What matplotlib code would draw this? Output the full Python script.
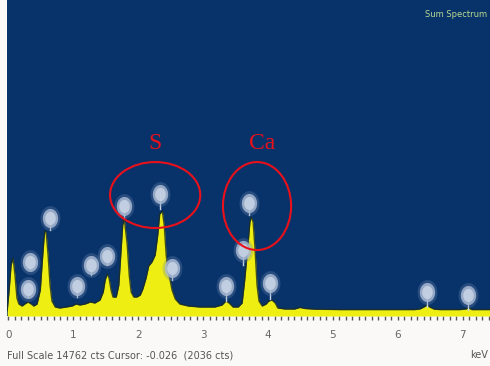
import numpy as np
import matplotlib
matplotlib.use("Agg")
import matplotlib.pyplot as plt
from matplotlib.patches import Ellipse
from matplotlib.ticker import MultipleLocator

# ---- spectrum (keV, counts) ----
energy = [-0.02, 0.01, 0.04, 0.07, 0.10, 0.13, 0.16, 0.21, 0.25, 0.30, 0.35, 0.39, 0.44,
          0.49, 0.52, 0.55, 0.56, 0.58, 0.61, 0.64, 0.67, 0.72, 0.79, 0.89, 0.98, 1.04,
          1.10, 1.18, 1.26, 1.33, 1.41, 1.46, 1.49, 1.52, 1.55, 1.58, 1.61, 1.66, 1.70,
          1.73, 1.76, 1.78, 1.79, 1.83, 1.86, 1.89, 1.93, 1.98, 2.03, 2.07, 2.12, 2.16,
          2.21, 2.26, 2.30, 2.33, 2.37, 2.40, 2.43, 2.46, 2.49, 2.52, 2.57, 2.64, 2.77,
          2.95, 3.18, 3.29, 3.35, 3.40, 3.46, 3.54, 3.60, 3.64, 3.69, 3.72, 3.74, 3.77,
          3.80, 3.83, 3.86, 3.91, 3.97, 4.01, 4.06, 4.11, 4.15, 4.26, 4.41, 4.49, 4.57,
          4.72, 5.11, 5.72, 6.26, 6.34, 6.40, 6.45, 6.49, 6.56, 6.65, 6.96, 7.05, 7.09,
          7.14, 7.42]
counts = [250, 1214, 2382, 2709, 1915, 841, 560, 467, 560, 654, 560, 467, 560,
          1214, 2522, 3736, 3970, 3923, 2849, 1447, 700, 420, 374, 420, 467, 560,
          514, 560, 654, 607, 747, 1121, 1681, 1961, 1775, 1214, 887, 887, 1447,
          2849, 4250, 4483, 4390, 3316, 1915, 1121, 887, 887, 980, 1260, 1775, 2335,
          2522, 2849, 3783, 4763, 4903, 4250, 2849, 2055, 1681, 1214, 794, 560, 467,
          420, 420, 514, 700, 607, 420, 420, 607, 1681, 3316, 4390, 4623, 4390,
          3082, 1447, 700, 467, 560, 700, 747, 607, 374, 327, 327, 400, 350,
          320, 300, 300, 300, 330, 420, 514, 420, 320, 300, 300, 330, 380,
          300, 300]

# element label markers (keV, counts)
label_energy = [0.33, 0.30, 0.64, 1.06, 1.27, 1.52, 1.78, 2.33, 2.52, 3.35, 3.61, 3.71, 4.03, 6.45, 7.08]
label_counts = [2522, 1261, 4577, 1401, 2382, 2802, 5137, 5697, 2242, 1401, 3082, 5277, 1541, 1121, 981]
stem_counts = [2200, 900, 4000, 900, 1900, 2400, 4600, 5000, 1700, 700, 2400, 4700, 800, 400, 300]

x_ticks = [0, 1, 2, 3, 4, 5, 6, 7]
x_ticklabels = ["0", "1", "2", "3", "4", "5", "6", "7"]
full_scale = 14762

annot_text = ["S", "Ca"]
annot_pos = [(2.26, 8079), (3.91, 8079)]
ell_center = [(2.26, 5651), (3.83, 5137)]
ell_size = [(1.39, 3082), (1.05, 4110)]

navy = "#08336a"
yellow = "#eeee12"

fig = plt.figure(figsize=(4.9, 3.66), dpi=100)
fig.patch.set_facecolor("#fbf8f8")
ax = fig.add_axes([7 / 490, 50 / 366, 483 / 490, 316 / 366])
ax.set_facecolor(navy)

ax.fill_between(energy, counts, 0, color=yellow, lw=0, zorder=2)
ax.plot(energy, counts, color="#1c2c20", lw=1.0, alpha=0.8, zorder=3)

# stems and label glows
for e, c, s in zip(label_energy, label_counts, stem_counts):
    ax.plot([e, e], [s, c], color="#c8d4e4", lw=1.0, zorder=4)

t = np.linspace(0, 2 * np.pi, 40)
oval = np.column_stack([0.8 * np.cos(t), np.sin(t)])
ax.scatter(label_energy, label_counts, marker=oval, s=320, color="#6f89b0", alpha=0.3,
           linewidths=0, zorder=5)
ax.scatter(label_energy, label_counts, marker=oval, s=190, color="#a9bad3", alpha=0.85,
           linewidths=0, zorder=6)
ax.scatter(label_energy, label_counts, marker=oval, s=90, color="#c9d5e6", alpha=0.85,
           linewidths=0, zorder=7)

# red annotations
for txt, (xe, yc) in zip(annot_text, annot_pos):
    ax.text(xe, yc, txt, color="#e8101a", fontsize=17, family=["Liberation Serif", "DejaVu Serif"],
            ha="center", va="center", zorder=9)
for (cx, cy), (w, h) in zip(ell_center, ell_size):
    ax.add_patch(Ellipse((cx, cy), w, h, fill=False, edgecolor="#e8101a", lw=1.5, zorder=9))

ax.text(0.995, 0.955, "Sum Spectrum", transform=ax.transAxes, ha="right", va="center",
        fontsize=6, color="#b8d890", family=["Liberation Sans Narrow", "DejaVu Sans"])

ax.set_xlim(-0.023, 7.42)
ax.set_ylim(0, full_scale)
ax.set_xticks(x_ticks)
ax.set_xticklabels(x_ticklabels)
ax.xaxis.set_minor_locator(MultipleLocator(0.1))
ax.set_yticks([])
ax.tick_params(axis="x", which="both", direction="out", length=3, width=1, color="#555555")
ax.tick_params(axis="x", which="major", labelsize=7.5, labelcolor="#666666", pad=7)
for sp in ax.spines.values():
    sp.set_visible(False)

fig.text(7 / 490, 1 - 355 / 366, "Full Scale 14762 cts Cursor: -0.026  (2036 cts)",
         ha="left", va="center", fontsize=7, color="#555555",
         family=["Liberation Sans Narrow", "DejaVu Sans"])
fig.text(488 / 490, 1 - 355 / 366, "keV", ha="right", va="center", fontsize=7,
         color="#555555", family=["Liberation Sans Narrow", "DejaVu Sans"])

fig.savefig("out.png", dpi=100)
